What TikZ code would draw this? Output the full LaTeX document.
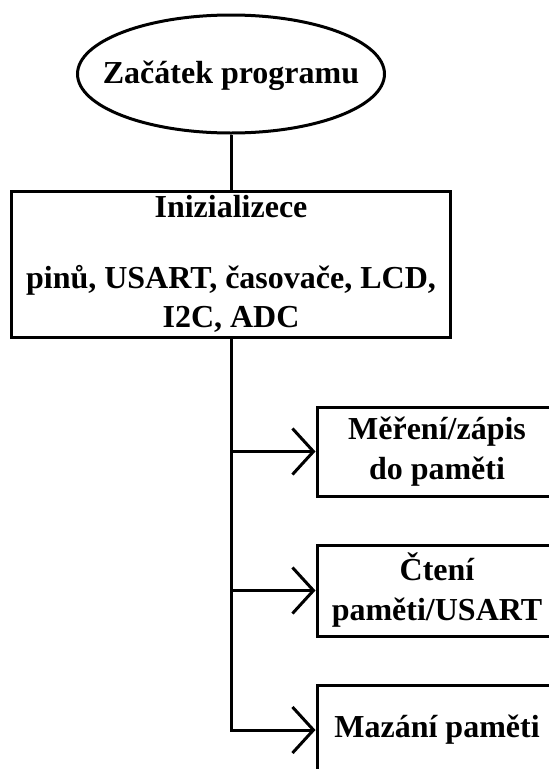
\documentclass[tikz,border=0pt]{standalone}
\usepackage{fontspec}
\setmainfont{Liberation Serif}
\usetikzlibrary{shapes.geometric,arrows.meta}
\begin{document}
\begin{tikzpicture}[x=1pt,y=-1pt,line width=3pt,
  every node/.style={font=\fontsize{32}{39}\selectfont\bfseries, inner sep=0pt},
  box/.style={draw, rectangle, align=center, line width=3pt},
  sidebox/.style={box, minimum width=240pt, font=\fontsize{32}{40}\selectfont\bfseries},
  conn/.style={line width=3pt},
  arr/.style={conn, -{Straight Barb[length=21pt,width=46pt]}}]
\useasboundingbox (0,0) rectangle (549,769);
\clip (0,0) rectangle (549,769);
\node[draw, ellipse, line width=3pt, minimum width=307pt, minimum height=118pt,
  label={[yshift=-2pt]center:Začátek programu}] (start) at (231,74) {};
\node[box, minimum width=439pt, minimum height=146pt] (init) at (231,264)
  {Inizializece\\[32pt]pinů, USART, časovače, LCD,\\I2C, ADC};
\node[sidebox, minimum height=89pt] (m1) at (437,451.5) {Měření/zápis\\do paměti};
\node[sidebox, minimum height=91pt] (m2) at (437,590.5) {Čtení\\paměti/USART};
\node[sidebox, minimum height=90pt] (m3) at (437,730) {Mazání paměti};
\draw[conn] (start.south) -- (init.north);
\draw[arr] (init.south) |- (m3.west);
\draw[arr] (init.south |- m1.west) -- (m1.west);
\draw[arr] (init.south |- m2.west) -- (m2.west);
\end{tikzpicture}
\end{document}
